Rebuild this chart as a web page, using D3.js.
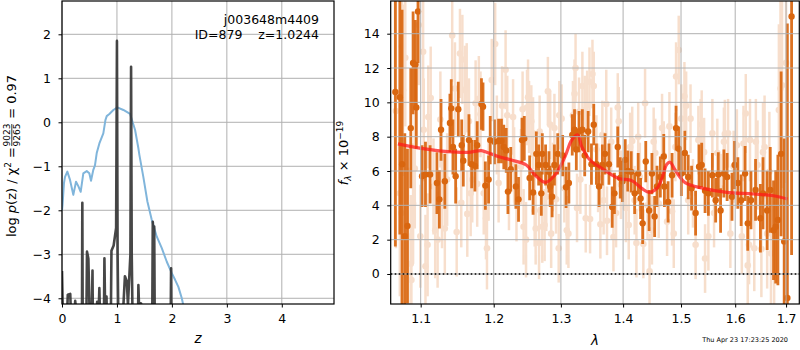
<!DOCTYPE html>
<html>
<head>
<meta charset="utf-8">
<script src="https://cdn.jsdelivr.net/npm/d3@7"></script>
<style>
  body { margin: 0; background: #fff; }
  svg { font-family: 'DejaVu Sans', sans-serif; }
</style>
</head>
<body>
<svg width="800" height="350"></svg>
<script>
// ---- left panel: p(z) ----
const zTicks = [0, 1, 2, 3, 4];
const logpTicks = [-4, -3, -2, -1, 0, 1, 2];

// chi2 curve (blue)
const chiZ = [0.0, 0.01, 0.036, 0.055, 0.097, 0.146, 0.206, 0.255, 0.297, 0.34, 0.388, 0.45, 0.497, 0.528, 0.57, 0.60, 0.632, 0.68, 0.752, 0.79, 0.814, 0.862, 0.935, 1.007, 1.117, 1.239, 1.33, 1.39, 1.408, 1.48, 1.554, 1.634, 1.725, 1.816, 1.907, 1.998, 2.058, 2.118, 2.18, 2.25];
const chiLogP = [-2.0, -1.88, -1.38, -1.24, -1.12, -1.31, -1.65, -1.35, -1.45, -1.58, -1.16, -1.11, -1.16, -1.33, -1.08, -0.98, -0.70, -0.48, -0.25, 0.05, 0.14, 0.19, 0.28, 0.34, 0.28, 0.19, -0.175, -0.59, -0.74, -1.24, -1.80, -2.22, -2.60, -2.86, -3.17, -3.43, -3.58, -3.74, -4.0, -4.4];

// log p(z) (dark)
const pzZ = [0, 0.025, 0.09, 0.105, 0.15, 0.17, 0.22, 0.24, 0.27, 0.30, 0.362, 0.37, 0.378, 0.44, 0.455, 0.48, 0.50, 0.54, 0.555, 0.565, 0.62, 0.64, 0.66, 0.68, 0.695, 0.76, 0.772, 0.785, 0.81, 0.825, 0.885, 0.90, 0.94, 0.985, 1.0, 1.012, 1.03, 1.08, 1.12, 1.145, 1.18, 1.20, 1.245, 1.257, 1.269, 1.29, 1.38, 1.39, 1.40, 1.44, 1.46, 1.64, 1.652, 1.665, 1.678, 1.69, 1.975, 1.985, 1.995, 4.95];
const pzLogP = [-3.38, -5.0, -4.5, -3.92, -3.9, -4.6, -5.0, -4.06, -4.4, -5.0, -5.0, -1.83, -5.0, -5.0, -2.94, -3.1, -4.2, -4.5, -3.37, -5.0, -4.5, -4.08, -4.6, -3.77, -4.6, -5.0, -3.09, -4.3, -3.96, -5.0, -5.0, -2.92, -2.8, -2.4, 1.85, -3.0, -5.0, -5.0, -4.1, -3.5, -3.62, -4.15, -3.0, 1.26, -3.0, -5.0, -5.0, -3.7, -4.1, -4.12, -5.0, -5.0, -2.26, -2.6, -2.37, -5.0, -5.0, -3.32, -5.0, -5.0];

// ---- right panel: spectrum ----
const waveTicks = [1.1, 1.2, 1.3, 1.4, 1.5, 1.6, 1.7];
const fluxTicks = [0, 2, 4, 6, 8, 10, 12, 14];

// [wavelength, flux, error]
const darkSpec = [
  [1.0673, 10.6, 9.0], [1.0730, 10.3, 8.0], [1.0759, 6.4, 9.0], [1.0794, 2.2, 6.0], [1.0828, 2.8, 4.5],
  [1.0871, 8.5, 3.5], [1.0901, 12.3, 3.0], [1.0931, 12.2, 2.6], [1.0943, 9.7, 2.4], [1.0965, 15.3, 3.0],
  [1.1018, 5.7, 1.8], [1.1063, 5.8, 1.9], [1.1124, 5.8, 1.7], [1.1215, 5.3, 1.8], [1.1248, 4.35, 1.7],
  [1.1270, 8.4, 1.8], [1.1321, 5.4, 1.6], [1.1390, 8.8, 1.7], [1.1408, 9.65, 1.7], [1.1431, 7.4, 1.6],
  [1.1468, 5.7, 1.6], [1.1504, 9.6, 1.6], [1.1551, 7.5, 1.5], [1.1573, 6.6, 1.5], [1.1651, 7.8, 1.5],
  [1.1689, 6.4, 1.4], [1.1734, 6.3, 1.5], [1.1766, 7.5, 1.4], [1.1826, 9.9, 1.5], [1.1848, 9.75, 1.4],
  [1.1881, 5.15, 1.4], [1.1927, 5.5, 1.4], [1.1950, 7.8, 1.4], [1.2010, 7.7, 1.3], [1.2070, 7.75, 1.3],
  [1.2111, 7.75, 1.3], [1.2145, 7.4, 1.3], [1.2180, 7.2, 1.3], [1.2205, 4.8, 1.3], [1.2246, 6.1, 1.3],
  [1.2321, 5.1, 1.3], [1.2360, 4.35, 1.3], [1.2411, 7.8, 1.3], [1.2445, 7.9, 1.3], [1.2525, 5.6, 1.3],
  [1.2576, 4.75, 1.3], [1.2625, 7.0, 1.3], [1.2660, 6.35, 1.2], [1.2700, 4.7, 1.3], [1.2715, 7.0, 1.2],
  [1.2765, 6.35, 1.2], [1.2816, 5.95, 1.2], [1.2835, 5.1, 1.2], [1.2865, 4.5, 1.2], [1.2900, 6.35, 1.2],
  [1.2951, 7.0, 1.2], [1.3027, 6.9, 1.2], [1.3080, 5.05, 1.2], [1.3124, 5.3, 1.2], [1.3177, 8.1, 1.2],
  [1.3213, 8.4, 1.2], [1.3241, 7.25, 1.2], [1.3284, 8.3, 1.2], [1.3337, 8.4, 1.2], [1.3374, 6.9, 1.2],
  [1.3429, 8.3, 1.2], [1.3482, 6.4, 1.2], [1.3519, 8.7, 1.2], [1.3562, 6.4, 1.2], [1.3605, 5.1, 1.2],
  [1.3658, 6.35, 1.2], [1.3702, 7.0, 1.2], [1.3766, 6.4, 1.2], [1.3819, 3.9, 1.2], [1.3856, 4.7, 1.2],
  [1.3911, 7.4, 1.2], [1.3952, 5.6, 1.2], [1.3990, 5.4, 1.2], [1.4035, 6.65, 1.2], [1.4078, 6.0, 1.2],
  [1.4136, 5.95, 1.2], [1.4194, 4.7, 1.2], [1.4254, 5.85, 1.2], [1.4295, 4.4, 1.2], [1.4330, 2.95, 1.2],
  [1.4383, 6.55, 1.2], [1.4441, 3.7, 1.2], [1.4489, 5.85, 1.2], [1.4536, 3.35, 1.2], [1.4577, 5.1, 1.2],
  [1.4635, 5.65, 1.2], [1.4695, 6.85, 1.3], [1.4706, 5.1, 1.2], [1.4771, 4.2, 1.2], [1.4841, 5.75, 1.3],
  [1.4912, 8.5, 1.3], [1.4959, 7.3, 1.3], [1.5006, 5.85, 1.3], [1.5068, 7.05, 1.3], [1.5129, 5.65, 1.3],
  [1.5190, 5.0, 1.3], [1.5263, 3.55, 1.3], [1.5326, 6.25, 1.3], [1.5374, 6.35, 1.3], [1.5436, 4.85, 1.3],
  [1.5497, 4.7, 1.3], [1.5571, 5.75, 1.3], [1.5632, 4.3, 1.3], [1.5681, 5.8, 1.3], [1.5724, 3.7, 1.3],
  [1.5786, 5.85, 1.4], [1.5847, 5.65, 1.4], [1.5939, 4.5, 1.4], [1.5989, 6.35, 1.4], [1.6051, 5.3, 1.5],
  [1.6114, 4.3, 1.5], [1.6190, 5.85, 1.6], [1.6241, 2.95, 1.6], [1.6304, 4.3, 1.7], [1.6393, 4.9, 1.8],
  [1.6488, 3.25, 2.0], [1.6539, 4.7, 2.1], [1.6621, 3.7, 2.3], [1.6683, 4.9, 2.5], [1.6748, 2.55, 2.9],
  [1.6791, 2.75, 3.3], [1.6835, 3.15, 3.8], [1.6900, 7.0, 4.8], [1.6962, 1.9, 6.0], [1.7026, -1.4, 16.0],
  [1.7112, 15.0, 13.9]
];

const lightSpec = [
  [1.0680, 9.5, 8.0], [1.0730, 4.7, 6.0], [1.0750, 3.55, 6.0], [1.0758, 13.25, 4.0], [1.0771, 10.7, 5.0],
  [1.0800, 12.6, 4.0], [1.0837, 2.2, 4.0], [1.0871, 0.6, 4.0], [1.0879, -0.35, 4.0], [1.0901, 4.1, 3.5],
  [1.0923, 6.15, 3.5], [1.0974, 14.5, 3.5], [1.0995, 2.2, 3.0], [1.1032, 12.95, 3.0], [1.1040, 8.4, 3.0],
  [1.1063, 0.45, 3.0], [1.1091, 1.7, 3.0], [1.1100, 9.15, 3.0], [1.1132, 10.25, 3.0], [1.1169, 5.1, 2.8],
  [1.1192, 2.55, 2.8], [1.1224, 2.0, 2.8], [1.1261, 9.0, 2.8], [1.1283, 4.3, 2.8], [1.1321, 2.65, 2.7],
  [1.1352, 5.5, 2.7], [1.1421, 13.9, 2.7], [1.1458, 10.8, 2.7], [1.1482, 2.45, 2.6], [1.1527, 12.85, 2.6],
  [1.1545, 4.15, 2.6], [1.1560, 12.5, 2.6], [1.1596, 10.7, 2.6], [1.1620, 10.85, 2.6], [1.1628, 3.5, 2.5],
  [1.1651, 8.9, 2.5], [1.1675, 4.7, 2.5], [1.1697, 5.5, 2.5], [1.1744, 9.95, 2.5], [1.1766, 5.25, 2.5],
  [1.1789, 10.2, 2.5], [1.1813, 9.3, 2.5], [1.1858, 4.7, 2.4], [1.1890, 3.25, 2.4], [1.1904, 1.5, 2.4],
  [1.1927, 5.5, 2.4], [1.1972, 11.3, 2.4], [1.2021, 13.4, 2.4], [1.2045, 8.1, 2.3], [1.2070, 5.3, 2.3],
  [1.2120, 9.8, 2.3], [1.2171, 11.9, 2.3], [1.2195, 9.25, 2.3], [1.2220, 4.85, 2.3], [1.2280, 9.15, 2.2],
  [1.2295, 6.35, 2.2], [1.2330, 4.1, 2.2], [1.2396, 6.25, 2.2], [1.2420, 9.6, 2.2], [1.2435, 2.75, 2.2],
  [1.2471, 2.0, 2.2], [1.2486, 9.7, 2.2], [1.2501, 10.3, 2.2], [1.2516, 9.15, 2.1], [1.2550, 8.9, 2.1],
  [1.2576, 8.2, 2.1], [1.2600, 3.7, 2.1], [1.2615, 2.65, 2.1], [1.2666, 1.8, 2.1], [1.2675, 8.3, 2.1],
  [1.2715, 2.75, 2.1], [1.2750, 2.85, 2.1], [1.2775, 4.5, 2.0], [1.2800, 10.65, 2.0], [1.2835, 8.7, 2.0],
  [1.2850, 2.35, 2.0], [1.2875, 5.65, 2.0], [1.2900, 8.5, 2.0], [1.2925, 4.35, 2.0], [1.2966, 1.5, 2.0],
  [1.2975, 9.25, 2.0], [1.3011, 9.05, 2.0], [1.3053, 5.0, 2.0], [1.3091, 2.55, 2.0], [1.3117, 2.35, 2.0],
  [1.3188, 9.25, 2.0], [1.3213, 10.5, 2.0], [1.3229, 12.0, 2.0], [1.3252, 3.85, 2.0], [1.3284, 9.45, 2.0],
  [1.3305, 5.5, 2.0], [1.3337, 10.95, 2.0], [1.3374, 9.55, 2.0], [1.3390, 3.25, 2.0], [1.3413, 9.85, 2.0],
  [1.3450, 11.2, 2.0], [1.3460, 3.2, 2.0], [1.3498, 11.65, 2.0], [1.3519, 10.95, 2.0], [1.3562, 7.25, 2.0],
  [1.3589, 5.6, 2.0], [1.3626, 2.9, 2.0], [1.3658, 8.1, 2.0], [1.3679, 4.3, 2.0], [1.3722, 9.9, 2.0],
  [1.3734, 3.1, 2.0], [1.3803, 7.7, 2.0], [1.3840, 2.15, 2.0], [1.3883, 3.55, 2.0], [1.3911, 9.7, 2.0],
  [1.3927, 8.9, 2.0], [1.3964, 5.2, 2.0], [1.4035, 5.85, 2.0], [1.4047, 3.85, 2.0], [1.4094, 2.85, 2.0],
  [1.4118, 7.4, 2.0], [1.4153, 7.75, 2.0], [1.4194, 4.3, 2.0], [1.4224, 1.8, 2.0], [1.4254, 8.0, 2.0],
  [1.4282, 5.65, 2.0], [1.4342, 1.75, 2.0], [1.4371, 9.95, 2.0], [1.4413, 4.0, 2.0], [1.4448, 0.15, 2.2],
  [1.4489, 2.55, 2.0], [1.4519, 7.7, 2.0], [1.4547, 7.05, 2.0], [1.4607, 4.1, 2.0], [1.4665, 8.5, 2.0],
  [1.4695, 6.9, 2.0], [1.4753, 3.05, 2.0], [1.4794, 8.6, 2.0], [1.4841, 3.65, 2.0], [1.4871, 2.35, 2.0],
  [1.4900, 7.4, 2.0], [1.4912, 11.5, 2.0], [1.4959, 13.05, 2.0], [1.5006, 9.05, 2.0], [1.5061, 10.35, 2.0],
  [1.5092, 9.8, 2.0], [1.5129, 4.3, 2.0], [1.5171, 9.05, 2.0], [1.5215, 4.7, 2.0], [1.5263, 1.7, 2.0],
  [1.5313, 7.8, 2.0], [1.5355, 8.2, 2.0], [1.5374, 8.7, 2.0], [1.5418, 7.1, 2.0], [1.5436, 0.9, 2.0],
  [1.5497, 2.2, 2.0], [1.5571, 8.2, 2.0], [1.5602, 3.55, 2.0], [1.5663, 7.05, 2.0], [1.5724, 5.0, 2.0],
  [1.5786, 7.7, 2.0], [1.5804, 8.15, 2.0], [1.5865, 8.2, 2.0], [1.5908, 2.35, 2.0], [1.5970, 6.25, 2.1],
  [1.6032, 7.5, 2.1], [1.6127, 2.2, 2.2], [1.6159, 7.6, 2.2], [1.6203, 9.35, 2.3], [1.6241, 0.5, 2.3],
  [1.6266, 1.7, 2.3], [1.6285, 7.8, 2.4], [1.6368, 1.5, 2.5], [1.6399, 7.7, 2.5], [1.6431, 6.35, 2.6],
  [1.6507, 1.45, 2.8], [1.6539, 7.1, 2.9], [1.6570, 7.4, 3.0], [1.6621, 2.35, 3.2], [1.6665, 5.95, 3.5],
  [1.6697, 1.2, 3.7], [1.6760, 0.05, 4.2], [1.6855, 9.55, 5.0], [1.6887, 10.8, 5.5], [1.6919, 11.0, 6.0],
  [1.7000, 12.3, 7.0]
];

const modelWave = [1.0706, 1.1008, 1.1364, 1.1638, 1.1824, 1.1919, 1.2062, 1.2254, 1.2475, 1.2605, 1.2757, 1.2909, 1.3064, 1.3169, 1.3264, 1.3327, 1.3459, 1.3648, 1.3921, 1.4145, 1.4315, 1.444, 1.4573, 1.4666, 1.4748, 1.4806, 1.4894, 1.5073, 1.5406, 1.5841, 1.6351, 1.6745, 1.7028];
const modelFlux = [7.58, 7.32, 7.13, 7.09, 7.19, 7.07, 6.84, 6.64, 6.35, 5.77, 5.34, 5.77, 6.84, 7.81, 8.1, 7.42, 6.64, 6.16, 5.58, 5.44, 4.99, 4.76, 4.99, 5.6, 6.39, 6.51, 6.06, 5.32, 4.99, 4.76, 4.66, 4.56, 4.37];

const specColor = '#d9660f';
const gridColor = '#b0b0b0';

let svg = d3.select('svg');
svg.append('rect').attr('width', 800).attr('height', 350).attr('fill', '#fff');

// ------------- left panel -------------
let L = {left: 62, right: 334, top: 1, bottom: 304};
let xz = d3.scaleLinear().domain([0, 4.95]).range([L.left, L.right]);
let yp = d3.scaleLinear().domain([-4.13, 2.757]).range([L.bottom, L.top]);

let defs = svg.append('defs');
defs.append('clipPath').attr('id', 'clipL')
  .append('rect').attr('x', L.left).attr('y', L.top)
  .attr('width', L.right - L.left).attr('height', L.bottom - L.top);

let gL = svg.append('g');

// grid
gL.append('g').selectAll('line').data(zTicks).enter().append('line')
  .attr('x1', d => xz(d)).attr('x2', d => xz(d))
  .attr('y1', L.top).attr('y2', L.bottom)
  .attr('stroke', gridColor).attr('stroke-width', 1);
gL.append('g').selectAll('line').data(logpTicks).enter().append('line')
  .attr('x1', L.left).attr('x2', L.right)
  .attr('y1', d => yp(d)).attr('y2', d => yp(d))
  .attr('stroke', gridColor).attr('stroke-width', 1);

let gLdata = gL.append('g').attr('clip-path', 'url(#clipL)');

gLdata.append('path')
  .datum(d3.zip(chiZ, chiLogP))
  .attr('fill', 'none')
  .attr('stroke', '#80b5db')
  .attr('stroke-width', 2)
  .attr('stroke-linejoin', 'round')
  .attr('d', d3.line().x(d => xz(d[0])).y(d => yp(d[1])));

gLdata.append('path')
  .datum(d3.zip(pzZ, pzLogP))
  .attr('fill', 'none')
  .attr('stroke', '#333')
  .attr('stroke-opacity', 0.9)
  .attr('stroke-width', 2.6)
  .attr('stroke-linejoin', 'round')
  .attr('d', d3.line().x(d => xz(d[0])).y(d => yp(d[1])));

// axes
gL.append('g').attr('transform', `translate(0,${L.bottom})`)
  .call(d3.axisBottom(xz).tickValues(zTicks).tickFormat(d3.format('d')).tickSize(3.5).tickPadding(6.5));
gL.append('g').attr('transform', `translate(${L.left},0)`)
  .call(d3.axisLeft(yp).tickValues(logpTicks).tickFormat(d3.format('d')).tickSize(3.5).tickPadding(7.5));

gL.append('rect').attr('x', L.left).attr('y', L.top)
  .attr('width', L.right - L.left).attr('height', L.bottom - L.top)
  .attr('fill', 'none').attr('stroke', '#000').attr('stroke-width', 1.2);

// annotation
gL.append('text').attr('x', 319).attr('y', 24).attr('text-anchor', 'end')
  .attr('font-size', 12.5).text('j003648m4409');
gL.append('text').attr('x', 319).attr('y', 38.5).attr('text-anchor', 'end')
  .attr('font-size', 12.5).style('white-space', 'pre').text('ID=879    z=1.0244');

// x label
gL.append('text').attr('x', (L.left + L.right) / 2).attr('y', 343)
  .attr('text-anchor', 'middle').attr('font-size', 13.5).attr('font-style', 'italic').text('z');

// y label with fraction
let ylab = svg.append('g');
let t1 = ylab.append('text').attr('font-size', 13).attr('x', 0).attr('y', 0);
t1.append('tspan').text('log ');
t1.append('tspan').attr('font-style', 'italic').text('p');
t1.append('tspan').text('(z) / \u03c7');
t1.append('tspan').attr('font-size', 9).attr('dy', -5).text('2');
t1.append('tspan').attr('dy', 5).text(' = ');
let w1 = t1.node().getComputedTextLength();
let fracW = 24;
ylab.append('text').attr('x', w1 + fracW / 2).attr('y', -6).attr('font-size', 9)
  .attr('text-anchor', 'middle').text('9023');
ylab.append('text').attr('x', w1 + fracW / 2).attr('y', 4).attr('font-size', 9)
  .attr('text-anchor', 'middle').text('9265');
ylab.append('line').attr('x1', w1 + 1).attr('x2', w1 + fracW - 1)
  .attr('y1', -4.2).attr('y2', -4.2).attr('stroke', '#000').attr('stroke-width', 0.8);
let t2 = ylab.append('text').attr('x', w1 + fracW).attr('y', 0).attr('font-size', 13).text(' = 0.97');
t2.style('white-space', 'pre');
let wTot = w1 + fracW + t2.node().getComputedTextLength();
ylab.attr('transform', `translate(16,${156 + wTot / 2}) rotate(-90)`);

// ------------- right panel -------------
let R = {left: 390.7, right: 799.3, top: 1, bottom: 304};
let xw = d3.scaleLog().domain([1.0614, 1.727]).range([R.left, R.right]);
let yf = d3.scaleLinear().domain([-1.748, 15.905]).range([R.bottom, R.top]);

defs.append('clipPath').attr('id', 'clipR')
  .append('rect').attr('x', R.left).attr('y', R.top)
  .attr('width', R.right - R.left).attr('height', R.bottom - R.top);

let gR = svg.append('g');
let gRdata = gR.append('g').attr('clip-path', 'url(#clipR)');

// light (second beam) spectrum
let gLight = gRdata.append('g').attr('opacity', 0.21);
gLight.selectAll('line').data(lightSpec).enter().append('line')
  .attr('x1', d => xw(d[0])).attr('x2', d => xw(d[0]))
  .attr('y1', d => yf(d[1] - d[2])).attr('y2', d => yf(d[1] + d[2]))
  .attr('stroke', specColor).attr('stroke-width', 2.5);
gLight.selectAll('circle').data(lightSpec).enter().append('circle')
  .attr('cx', d => xw(d[0])).attr('cy', d => yf(d[1])).attr('r', 3.3)
  .attr('fill', specColor);

// dark spectrum
let gDark = gRdata.append('g');
gDark.selectAll('line').data(darkSpec).enter().append('line')
  .attr('x1', d => xw(d[0])).attr('x2', d => xw(d[0]))
  .attr('y1', d => yf(d[1] - d[2])).attr('y2', d => yf(d[1] + d[2]))
  .attr('stroke', specColor).attr('stroke-width', 2.8).attr('stroke-opacity', 0.92);
gDark.selectAll('circle').data(darkSpec).enter().append('circle')
  .attr('cx', d => xw(d[0])).attr('cy', d => yf(d[1])).attr('r', 3.2)
  .attr('fill', specColor);

// model
gRdata.append('path')
  .datum(d3.zip(modelWave, modelFlux))
  .attr('fill', 'none')
  .attr('stroke', '#ff1a1a')
  .attr('stroke-opacity', 0.75)
  .attr('stroke-width', 3.2)
  .attr('stroke-linejoin', 'round')
  .attr('d', d3.line().curve(d3.curveCatmullRom).x(d => xw(d[0])).y(d => yf(d[1])));

// grid on top
gR.append('g').selectAll('line').data(waveTicks).enter().append('line')
  .attr('x1', d => xw(d)).attr('x2', d => xw(d))
  .attr('y1', R.top).attr('y2', R.bottom)
  .attr('stroke', gridColor).attr('stroke-width', 1);
gR.append('g').selectAll('line').data(fluxTicks).enter().append('line')
  .attr('x1', R.left).attr('x2', R.right)
  .attr('y1', d => yf(d)).attr('y2', d => yf(d))
  .attr('stroke', gridColor).attr('stroke-width', 1);

// zero line
gR.append('line')
  .attr('x1', R.left).attr('x2', R.right)
  .attr('y1', yf(0)).attr('y2', yf(0))
  .attr('stroke', '#000').attr('stroke-width', 1.6)
  .attr('stroke-dasharray', '1.6 2.4');

gR.append('g').attr('transform', `translate(0,${R.bottom})`)
  .call(d3.axisBottom(xw).tickValues(waveTicks).tickFormat(d3.format('.1f')).tickSize(3.5).tickPadding(6.5));
gR.append('g').attr('transform', `translate(${R.left},0)`)
  .call(d3.axisLeft(yf).tickValues(fluxTicks).tickFormat(d3.format('d')).tickSize(3.5).tickPadding(7.5));

gR.append('rect').attr('x', R.left).attr('y', R.top)
  .attr('width', R.right - R.left).attr('height', R.bottom - R.top)
  .attr('fill', 'none').attr('stroke', '#000').attr('stroke-width', 1.2);

// labels
gR.append('text').attr('x', (R.left + R.right) / 2).attr('y', 345)
  .attr('text-anchor', 'middle').attr('font-size', 13.5).attr('font-style', 'italic').text('\u03bb');

let ylabR = svg.append('text').attr('font-size', 13).attr('text-anchor', 'middle')
  .attr('transform', 'translate(348,153) rotate(-90)');
ylabR.append('tspan').attr('font-style', 'italic').text('f');
ylabR.append('tspan').attr('font-size', 9).attr('font-style', 'italic').attr('dy', 3).text('\u03bb');
ylabR.append('tspan').attr('dy', -3).text(' \u00d7 10');
ylabR.append('tspan').attr('font-size', 9).attr('dy', -5).text('\u221219');

svg.append('text').attr('x', 788).attr('y', 341.5).attr('text-anchor', 'end')
  .attr('font-size', 6.5).text('Thu Apr 23 17:23:25 2020');

// axis styling
svg.selectAll('.tick text').attr('font-size', 12.5).attr('font-family', 'DejaVu Sans').attr('fill', '#000');
svg.selectAll('.tick line').attr('stroke', '#000');
svg.selectAll('.domain').remove();
</script>
</body>
</html>
